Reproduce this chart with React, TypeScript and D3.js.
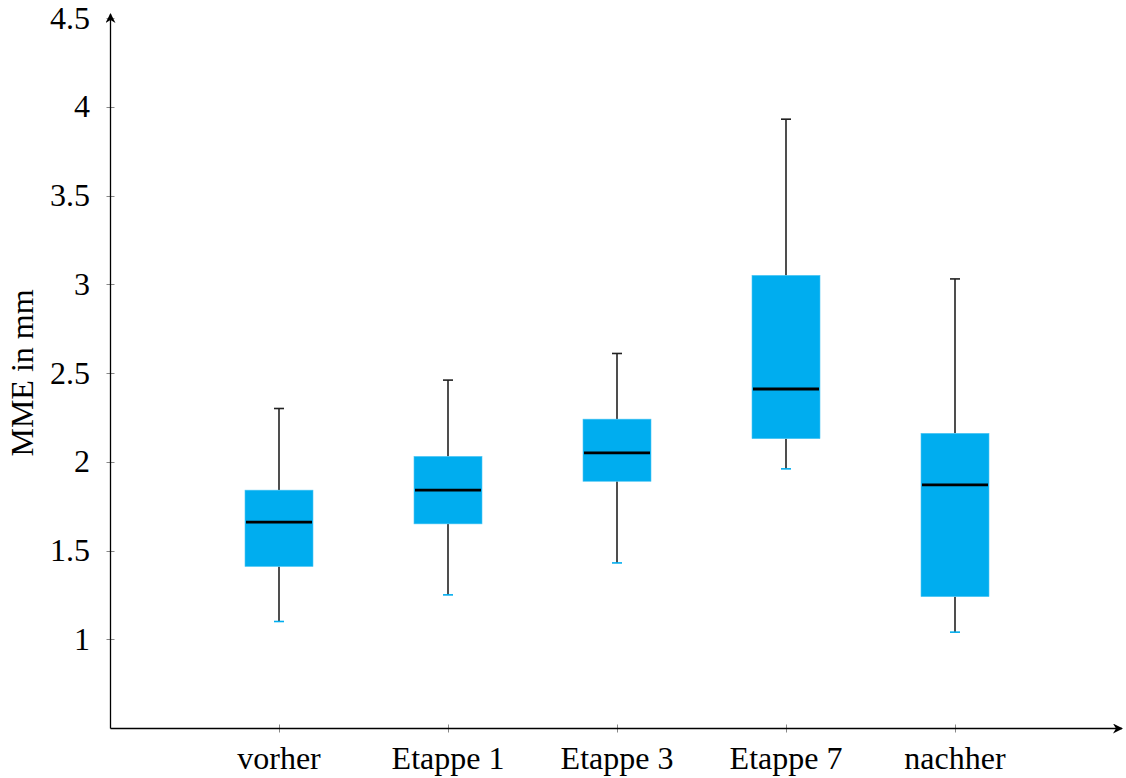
import * as d3 from 'd3';
import React, { useRef, useEffect } from 'react';

// box plot statistics
const categories = ['vorher', 'Etappe 1', 'Etappe 3', 'Etappe 7', 'nachher'];
const lowerWhisker = [1.1, 1.25, 1.43, 1.96, 1.04];
const lowerQuartile = [1.41, 1.65, 1.89, 2.13, 1.24];
const median = [1.66, 1.84, 2.05, 2.41, 1.87];
const upperQuartile = [1.84, 2.03, 2.24, 3.05, 2.16];
const upperWhisker = [2.3, 2.46, 2.61, 3.93, 3.03];
const yTicks = [1, 1.5, 2, 2.5, 3, 3.5, 4, 4.5];

const BOX_COLOR = '#00adef';
const FONT = '"Liberation Serif", "Times New Roman", serif';

const App = () => {
  const ref = useRef<SVGSVGElement>(null);

  const width = 1126,
    height = 778;
  const margin = { top: 18, right: 4, bottom: 50, left: 110 };

  useEffect(() => {
    const svg = d3.select(ref.current);
    svg.selectAll('*').remove();

    const x = d3.scaleLinear()
      .domain([0, 6])
      .range([margin.left, width - 2]);
    const y = d3.scaleLinear()
      .domain([0.5, 4.5])
      .range([height - margin.bottom, margin.top]);

    const x0 = margin.left + 0.5;
    const y0 = y(0.5) + 0.5;

    // arrow marker
    svg.append('defs')
      .append('marker')
      .attr('id', 'arrow')
      .attr('viewBox', '0 0 10 10')
      .attr('refX', 9)
      .attr('refY', 5)
      .attr('markerWidth', 10)
      .attr('markerHeight', 10)
      .attr('markerUnits', 'userSpaceOnUse')
      .attr('orient', 'auto')
      .append('path')
      .attr('d', 'M0,0 L10,5 L0,10 L3,5 Z')
      .attr('fill', '#000');

    // Y ticks + labels
    const yAxis = svg.append('g');
    yAxis.selectAll('line')
      .data(yTicks)
      .enter()
      .append('line')
      .attr('x1', x0 - 4)
      .attr('x2', x0 + 4)
      .attr('y1', (d) => Math.round(y(d)) + 0.5)
      .attr('y2', (d) => Math.round(y(d)) + 0.5)
      .attr('stroke', '#888')
      .attr('stroke-width', 1);
    yAxis.selectAll('text')
      .data(yTicks)
      .enter()
      .append('text')
      .attr('x', 90)
      .attr('y', (d) => y(d))
      .attr('dy', '0.33em')
      .attr('text-anchor', 'end')
      .style('font-family', FONT)
      .style('font-size', '32px')
      .text((d) => String(d));

    // X ticks + labels
    const xAxis = svg.append('g');
    xAxis.selectAll('line')
      .data(categories)
      .enter()
      .append('line')
      .attr('x1', (d, i) => Math.round(x(i + 1)) + 0.5)
      .attr('x2', (d, i) => Math.round(x(i + 1)) + 0.5)
      .attr('y1', y0 - 4)
      .attr('y2', y0 + 4)
      .attr('stroke', '#888')
      .attr('stroke-width', 1);
    xAxis.selectAll('text')
      .data(categories)
      .enter()
      .append('text')
      .attr('x', (d, i) => x(i + 1))
      .attr('y', 769)
      .attr('text-anchor', 'middle')
      .style('font-family', FONT)
      .style('font-size', '32px')
      .text((d) => d);

    // axis lines with arrows
    svg.append('line')
      .attr('x1', x0).attr('y1', y0)
      .attr('x2', x0).attr('y2', 14)
      .attr('stroke', '#000').attr('stroke-width', 1.3)
      .attr('marker-end', 'url(#arrow)');
    svg.append('line')
      .attr('x1', x0).attr('y1', y0)
      .attr('x2', 1122).attr('y2', y0)
      .attr('stroke', '#000').attr('stroke-width', 1.3)
      .attr('marker-end', 'url(#arrow)');

    // Y title
    svg.append('text')
      .attr('transform', 'translate(33,' + y(2.5) + ') rotate(-90)')
      .attr('text-anchor', 'middle')
      .style('font-family', FONT)
      .style('font-size', '32px')
      .text('MME in mm');

    // boxes
    const boxW = 68;
    const capW = 10;
    const boxes = svg.append('g');
    categories.forEach((c, i) => {
      const cx = x(i + 1);
      const g = boxes.append('g');
      // whiskers
      g.append('line')
        .attr('x1', cx).attr('x2', cx)
        .attr('y1', y(upperQuartile[i])).attr('y2', y(upperWhisker[i]))
        .attr('stroke', '#222').attr('stroke-width', 1.6);
      g.append('line')
        .attr('x1', cx).attr('x2', cx)
        .attr('y1', y(lowerQuartile[i])).attr('y2', y(lowerWhisker[i]))
        .attr('stroke', '#222').attr('stroke-width', 1.6);
      g.append('line')
        .attr('x1', cx - capW / 2).attr('x2', cx + capW / 2)
        .attr('y1', y(upperWhisker[i])).attr('y2', y(upperWhisker[i]))
        .attr('stroke', '#222').attr('stroke-width', 1.6);
      g.append('line')
        .attr('x1', cx - capW / 2).attr('x2', cx + capW / 2)
        .attr('y1', y(lowerWhisker[i])).attr('y2', y(lowerWhisker[i]))
        .attr('stroke', BOX_COLOR).attr('stroke-width', 1.6);
      // box
      g.append('rect')
        .attr('x', cx - boxW / 2)
        .attr('y', y(upperQuartile[i]))
        .attr('width', boxW)
        .attr('height', y(lowerQuartile[i]) - y(upperQuartile[i]))
        .attr('fill', BOX_COLOR)
        .attr('stroke', '#4cc6f3')
        .attr('stroke-width', 0.6);
      // median
      g.append('line')
        .attr('x1', cx - boxW / 2 + 1).attr('x2', cx + boxW / 2 - 1)
        .attr('y1', y(median[i])).attr('y2', y(median[i]))
        .attr('stroke', '#000').attr('stroke-width', 2.8);
    });
  });

  return (
    <svg ref={ref} width={width} height={height} style={{ position: 'absolute', left: 0, top: 0 }}></svg>
  );
};

export default App;
